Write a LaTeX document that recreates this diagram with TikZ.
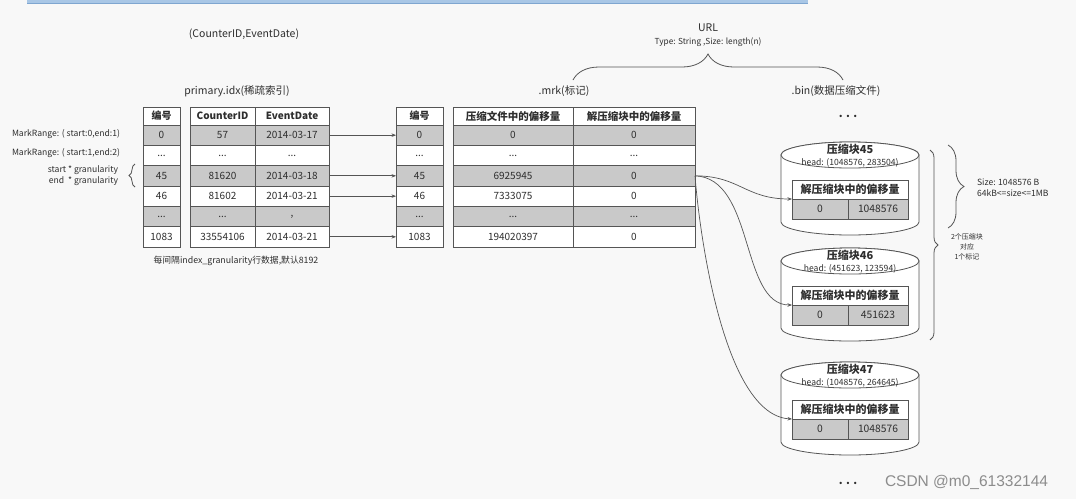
\documentclass[tikz,border=0pt]{standalone}
\usepackage{fontspec}
\setmainfont{Noto Sans CJK SC}
\newfontfamily\wmfont{Liberation Sans}
\usetikzlibrary{arrows.meta,decorations.pathreplacing}
\definecolor{bg}{HTML}{F8F8F8}
\definecolor{gr}{HTML}{C9C9C9}
\definecolor{linec}{HTML}{555555}
\definecolor{txt}{HTML}{2E2E2E}
\definecolor{selbar}{HTML}{A9C7E6}
\definecolor{selline}{HTML}{7FA6D0}
\newcommand\fs[1]{\fontsize{#1}{#1}\selectfont}
\newcommand\dts{...}
\begin{document}
\begin{tikzpicture}[x=1pt,y=-1pt,
  cell/.style={draw=linec, line width=0.8pt, inner sep=0pt, outer sep=0pt, text=txt, font=\fs{10}, anchor=center},
  hdr/.style={cell, fill=white, font=\bfseries\fs{10}},
  lbl/.style={inner sep=0pt, outer sep=0pt, text=txt},
  arr/.style={draw=linec, line width=0.7pt, -{Stealth[length=4.5pt,width=3.5pt]}},
  brc/.style={draw=linec, line width=0.8pt, decorate},
  cyl/.style={draw=linec, line width=0.8pt, fill=white}]
\useasboundingbox (0,0) rectangle (1076,499);
\fill[bg] (0,0) rectangle (1076,499);
% selection bar at top
\fill[selbar] (27,-1) rectangle (808,3);
\draw[selline, line width=0.6pt] (27,3) -- (808,3);

% top labels
\node[lbl, font=\fs{10.5}] (key) at (244,34) {(CounterID,EventDate)};
\node[lbl, font=\fs{10.5}] (pidx) at (237,91) {primary.idx(稀疏索引)};
\node[lbl, font=\fs{10.5}] (url) at (708,28) {URL};
\node[lbl, font=\fs{8.3}] (urltype) at (708,42) {Type: String ,Size: length(n)};
\node[lbl, font=\fs{10.5}] (mrk) at (564,91) {.mrk(标记)};
\node[lbl, font=\fs{10.5}] (bin) at (836,91) {.bin(数据压缩文件)};
\coordinate (bl) at (573,80);
\coordinate (br) at (843,80);
\draw[brc, decoration={brace, amplitude=26pt, aspect=0.5}] (bl) -- (br);

% headers
\node[hdr, minimum width=37pt, minimum height=18pt] (Lh) at (161.5,116) {编号};
\node[hdr, minimum width=65pt, minimum height=18pt] (Ch) at (222.5,116) {CounterID};
\node[hdr, minimum width=74pt, minimum height=18pt] (Eh) at (292,116) {EventDate};
\node[hdr, minimum width=47pt, minimum height=18pt] (Mh) at (419.5,116) {编号};
\node[hdr, font=\bfseries\fs{10.5}, minimum width=120pt, minimum height=18pt] (Fh) at (513,116) {压缩文件中的偏移量};
\node[hdr, font=\bfseries\fs{10.5}, minimum width=122pt, minimum height=18pt] (Dh) at (634,116) {解压缩块中的偏移量};

% rows
\foreach \i/\l/\c/\e/\m/\f/\d/\fc in {
  1/0/57/2014-03-17/0/0/0/gr,
  2/\dts/\dts/\dts/\dts/\dts/\dts/white,
  3/45/81620/2014-03-18/45/6925945/0/gr,
  4/46/81602/2014-03-21/46/7333075/0/white,
  5/\dts/\dts/{,}/\dts/\dts/\dts/gr,
  6/1083/33554106/2014-03-21/1083/194020397/0/white}{
  \pgfmathsetmacro\yy{125+20.33*(\i-0.5)}
  \node[cell, fill=\fc, minimum width=37pt, minimum height=20.33pt] (L\i) at (161.5,\yy) {\l};
  \node[cell, fill=\fc, minimum width=65pt, minimum height=20.33pt] (C\i) at (222.5,\yy) {\c};
  \node[cell, fill=\fc, minimum width=74pt, minimum height=20.33pt] (E\i) at (292,\yy) {\e};
  \node[cell, fill=\fc, minimum width=47pt, minimum height=20.33pt] (M\i) at (419.5,\yy) {\m};
  \node[cell, fill=\fc, minimum width=120pt, minimum height=20.33pt] (F\i) at (513,\yy) {\f};
  \node[cell, fill=\fc, minimum width=122pt, minimum height=20.33pt] (D\i) at (634,\yy) {\d};
}
\foreach \i in {1,3,4,6}{\draw[arr] (E\i.east) -- (M\i.west);}

% caption under index
\node[lbl, font=\fs{8.8}] (cap) at (236,261) {每间隔index\_granularity行数据,默认8192};

% left labels
\node[lbl, font=\fs{8.6}, anchor=east] (mr1) at (120,134) {MarkRange: ( start:0,end:1)};
\node[lbl, font=\fs{8.6}, anchor=east] (mr2) at (120,153) {MarkRange: ( start:1,end:2)};
\node[lbl, font=\fs{8.6}, anchor=east] (sg) at (118,170) {start * granularity};
\node[lbl, font=\fs{8.6}, anchor=east] (eg) at (118,181) {end \ * granularity};
\coordinate (lb1) at (135,187);
\coordinate (lb2) at (135,164);
\draw[brc, decoration={brace, amplitude=6pt, aspect=0.5}] (lb1) -- (lb2);

% dots
\node[lbl, font=\bfseries\fs{11}] (dtop) at (848,116) {. . .};
\node[lbl, font=\bfseries\fs{11}] (dbot) at (848,483) {. . .};

% cylinders
\foreach \k/\T/\hd/\v in {45/142/{1048576, 283504}/1048576, 46/248/{451623, 123594}/451623, 47/362/{1048576, 264645}/1048576}{
  \filldraw[cyl] (781,\T+13) -- (781,\T+80) arc[start angle=180, end angle=0, x radius=69, y radius=13] -- (919,\T+13) arc[start angle=0, end angle=-180, x radius=69, y radius=13] -- cycle;
  \draw[cyl] (850,\T+13) ellipse[x radius=69, y radius=13];
  \node[lbl, font=\bfseries\fs{11}] (N\k) at (850,\T+7.5) {压缩块\k};
  \node[lbl, font=\fs{8.6}] (hd\k) at (850,\T+21) {head: (\hd)};
  \node[hdr, font=\bfseries\fs{11}, minimum width=116pt, minimum height=19pt] (H\k) at (850,\T+47.5) {解压缩块中的偏移量};
  \node[cell, fill=gr, font=\fs{10.3}, minimum width=56pt, minimum height=20pt] (A\k) at (820,\T+67) {0};
  \node[cell, fill=gr, font=\fs{10.3}, minimum width=60pt, minimum height=20pt] (B\k) at (878,\T+67) {\v};
}

% curves from mark 45
\draw[arr] (D3.east) .. controls (740,176) and (745,199) .. (H45.south west);
\draw[arr] (D3.east) .. controls (755,178) and (740,305) .. (H46.south west);
\draw[arr] (D3.east) .. controls (700,240) and (725,415) .. (H47.south west);

% right braces
\coordinate (rb1a) at (948,145);
\coordinate (rb1b) at (948,228);
\draw[brc, decoration={brace, amplitude=16pt, aspect=0.5}] (rb1a) -- (rb1b);
\node[lbl, font=\fs{8.6}, anchor=west] (sz1) at (977,182) {Size: 1048576 B};
\node[lbl, font=\fs{8.6}, anchor=west] (sz2) at (977,193) {64kB<=size<=1MB};
\coordinate (rb2a) at (930,150);
\coordinate (rb2b) at (930,340);
\draw[brc, decoration={brace, amplitude=8pt, aspect=0.5}] (rb2a) -- (rb2b);
\node[lbl, font=\fs{7}] (c1) at (967,237) {2个压缩块};
\node[lbl, font=\fs{7}] (c2) at (967,247) {对应};
\node[lbl, font=\fs{7}] (c3) at (967,257) {1个标记};

% watermark
\node[lbl, text=black!45, font=\wmfont\fs{15.5}, anchor=west] (wm) at (885,482) {CSDN @m0\_61332144};
\end{tikzpicture}
\end{document}
